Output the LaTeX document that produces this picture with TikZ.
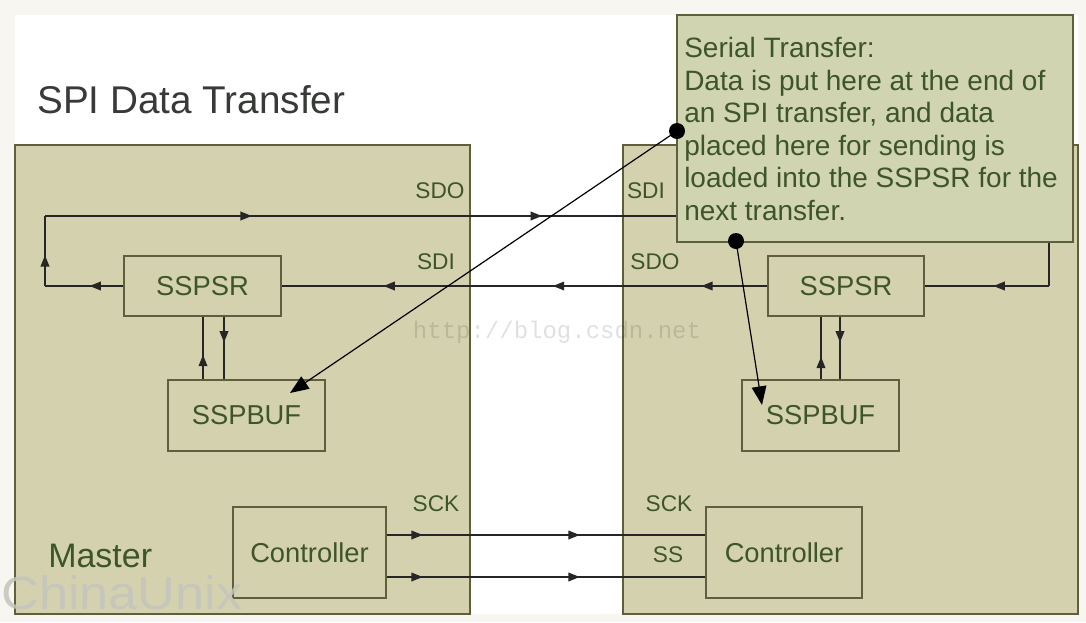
\documentclass[tikz,border=0pt]{standalone}
\usepackage{fontspec}
\setmainfont{Liberation Sans}
\newfontfamily\markfont{Liberation Mono}
\usetikzlibrary{arrows.meta, decorations.markings}

\definecolor{boxfill}{RGB}{212,210,174}
\definecolor{notefill}{RGB}{208,212,176}
\definecolor{boxline}{RGB}{95,95,62}
\definecolor{textgreen}{RGB}{62,85,40}
\definecolor{titlegray}{RGB}{55,58,55}
\definecolor{paper}{RGB}{248,246,240}
\definecolor{wmgray}{RGB}{196,196,190}

\tikzset{
  panel/.style={draw=boxline, line width=1.4pt, fill=boxfill, inner sep=0pt},
  reg/.style={draw=boxline, line width=1.4pt, fill=boxfill, inner sep=0pt, text=textgreen, font=\fontsize{20.5}{24}\selectfont},
  sig/.style={line width=1.1pt, black!85},
  midtip/.style={postaction={decorate, decoration={markings, mark=at position #1 with {\arrow{Triangle[length=8.5pt,width=6.5pt]}}}}},
  pin/.style={text=textgreen, font=\fontsize{17}{20}\selectfont, inner sep=0pt},
  dot/.style={circle, fill=black, inner sep=0pt, minimum size=12pt},
  pointer/.style={line width=0.9pt, -{Triangle[length=14pt,width=11pt]}},
}

\begin{document}
\begin{tikzpicture}[x=0.75pt,y=0.75pt,yscale=-1]
        \useasboundingbox (0,0) rectangle (1086,622);
        \fill[paper] (0,0) rectangle (1086,622);
        \fill[white] (15,15) rectangle (1078,614);

        %Shape: Rectangle [master and slave]
        \node[panel, minimum width=341.25pt, minimum height=351.75pt] (master) at (242.5,379.5) {};
        \node[panel, minimum width=341.25pt, minimum height=351.75pt] (slave) at (850.5,379.5) {};

        %Shape: Rectangle [registers]
        \node[reg, minimum width=117.75pt, minimum height=45pt] (mSR) at (202.5,286) {SSPSR};
        \node[reg, minimum width=117pt, minimum height=45pt] (sSR) at (846,286) {SSPSR};
        \node[reg, minimum width=117.75pt, minimum height=53.25pt] (mBuf) at (246.5,415.5) {SSPBUF};
        \node[reg, minimum width=117.75pt, minimum height=53.25pt] (sBuf) at (820.5,415.5) {SSPBUF};
        \node[reg, minimum width=114.75pt, minimum height=68.25pt] (mCtl) at (309.5,552.5) {Controller};
        \node[reg, minimum width=117pt, minimum height=68.25pt] (sCtl) at (784,552.5) {Controller};

        \coordinate (mTurn) at (45,286);
        \coordinate (mTop) at (45,216);
        \coordinate (sTop) at (1049,216);
        \coordinate (sTurn) at (1049,286);
        \coordinate (mUpX) at (203,0);
        \coordinate (mDnX) at (224,0);
        \coordinate (sUpX) at (821,0);
        \coordinate (sDnX) at (840,0);
        \coordinate (sckY) at (0,535);
        \coordinate (ssY) at (0,577);

        %Shape: Lines [data ring]
        \draw[sig, midtip=0.43] (mSR.west) -- (mTurn);
        \draw[sig, midtip=0.44] (mTurn) -- (mTop);
        \draw[sig, midtip=0.206, midtip=0.495] (mTop) -- (sTop);
        \draw[sig, midtip=0.41] (sTop) -- (sTurn);
        \draw[sig, midtip=0.448] (sTurn) -- (sSR.east);
        \draw[sig, midtip=0.1355, midtip=0.4415, midtip=0.7906] (sSR.west) -- (mSR.east);

        %Shape: Lines [buffer load]
        \draw[sig, midtip=0.39] (mBuf.north -| mUpX) -- (mSR.south -| mUpX);
        \draw[sig, midtip=0.41] (mSR.south -| mDnX) -- (mBuf.north -| mDnX);
        \draw[sig, midtip=0.36] (sBuf.north -| sUpX) -- (sSR.south -| sUpX);
        \draw[sig, midtip=0.41] (sSR.south -| sDnX) -- (sBuf.north -| sDnX);

        %Shape: Lines [clock and select]
        \draw[sig, midtip=0.1125, midtip=0.606] (mCtl.east |- sckY) -- (sCtl.west |- sckY);
        \draw[sig, midtip=0.1125, midtip=0.606] (mCtl.east |- ssY) -- (sCtl.west |- ssY);

        %Shape: Rectangle [callout]
        \node[panel, fill=notefill, minimum width=297pt, minimum height=170.25pt] (note) at (875,128.5) {};

        % Text Node
        \node[anchor=north west, inner sep=0pt, text=textgreen, align=left, font=\fontsize{21}{24.45}\selectfont] (noteText) at (684,37) {Serial Transfer:\\Data is put here at the end of\\an SPI transfer, and data\\placed here for sending is\\loaded into the SSPSR for the\\next transfer.};

        % Text Node
        \node[anchor=base west, inner sep=0pt, text=titlegray, font=\fontsize{29}{34}\selectfont] (title) at (37,113) {SPI Data Transfer};
        \node[anchor=base west, inner sep=0pt, text=textgreen, font=\fontsize{25.5}{30}\selectfont] (masterLbl) at (48,567) {Master};

        % Text Node [pins]
        \node[pin] (mSDO) at (440,191) {SDO};
        \node[pin] (mSDI) at (436,262) {SDI};
        \node[pin] (sSDI) at (646,191) {SDI};
        \node[pin] (sSDO) at (655,262) {SDO};
        \node[pin] (mSCK) at (436,504) {SCK};
        \node[pin] (sSCK) at (669,504) {SCK};
        \node[pin] (sSS) at (668,555) {SS};

        %Shape: Pointers
        \coordinate (tipA) at (290,393);
        \coordinate (tipB) at (762,405);
        \node[dot] (dotA) at (677,131) {};
        \node[dot] (dotB) at (736,241) {};
        \draw[pointer] (dotA.center) -- (tipA);
        \draw[pointer] (dotB.center) -- (tipB);

        % Text Node [watermarks]
        \node[anchor=base west, inner sep=0pt, text=wmgray, opacity=0.85, font=\fontsize{35}{38}\selectfont] (wmChina) at (1,609) {\scalebox{1.12}[1]{ChinaUnix}};
        \node[inner sep=0pt, text=black, opacity=0.12, font=\markfont\fontsize{18}{20}\selectfont] (wmBlog) at (557,332) {http://blog.csdn.net};

\end{tikzpicture}
\end{document}
